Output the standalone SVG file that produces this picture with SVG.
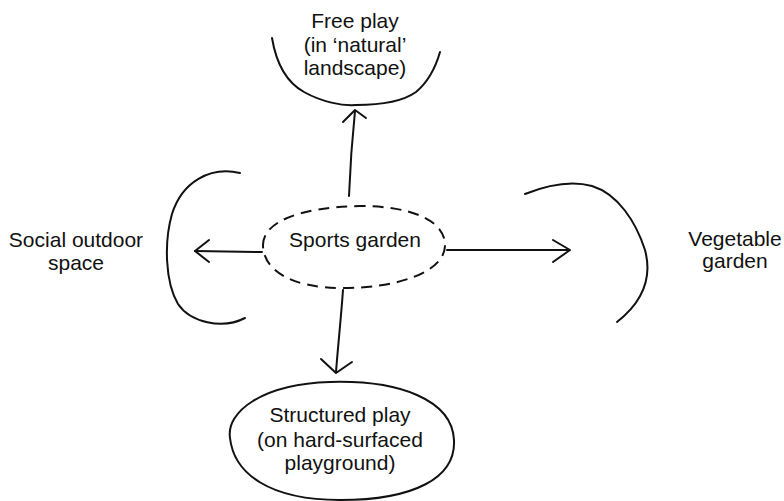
<svg xmlns="http://www.w3.org/2000/svg" width="784" height="501" viewBox="0 0 784 501">
  <style>
    .ink { fill: none; stroke: #111; stroke-width: 2; stroke-linecap: round; stroke-linejoin: round; }
    .dash { stroke-dasharray: 11 7; stroke-linecap: butt; }
    .label { font-family: "Liberation Sans", Arial, sans-serif; font-size: 21px; fill: #111; text-anchor: middle; }
  </style>
  <rect width="784" height="501" fill="#fff"/>

  <!-- Central node -->
  <g id="sports-garden">
    <path class="ink dash" d="M263 246 C262 222 300 207 360 206 C414 206 446 222 445 246 C444 272 398 288 343 288 C290 288 264 270 263 246 Z"/>
    <text class="label" x="355" y="247">Sports garden</text>
  </g>

  <!-- Free play (open bowl shape) -->
  <g id="free-play">
    <path class="ink" d="M272 38 C276 62 286 82 304 92 C322 102 342 106 356 105 C378 105 402 102 416 92 C428 82 436 66 440 52"/>
    <text class="label" x="355" y="28">Free play</text>
    <text class="label" x="355" y="52">(in ‘natural’</text>
    <text class="label" x="355" y="75">landscape)</text>
  </g>

  <!-- Social outdoor space (left bracket) -->
  <g id="social-outdoor-space">
    <path class="ink" d="M240 173 C210 166 182 182 172 214 C164 242 165 282 178 304 C190 322 222 330 245 318"/>
    <text class="label" x="76" y="247">Social outdoor</text>
    <text class="label" x="76" y="270">space</text>
  </g>

  <!-- Vegetable garden (right bracket) -->
  <g id="vegetable-garden">
    <path class="ink" d="M525 194 C545 186 570 180 592 186 C618 194 636 222 645 250 C652 276 645 300 617 322"/>
    <text class="label" x="735" y="246">Vegetable</text>
    <text class="label" x="735" y="268">garden</text>
  </g>

  <!-- Structured play -->
  <g id="structured-play">
    <path class="ink" d="M230 438 C226 412 262 384 330 382 C400 380 452 400 454 440 C456 478 414 500 340 500 C270 500 234 474 230 438 Z"/>
    <text class="label" x="340" y="422">Structured play</text>
    <text class="label" x="340" y="447">(on hard-surfaced</text>
    <text class="label" x="340" y="470">playground)</text>
  </g>

  <!-- Connectors -->
  <g id="connectors">
    <path class="ink" d="M349 196 C350 170 352 140 355 111"/>
    <path class="ink" d="M343 122 L355 110 L366 118"/>

    <path class="ink" d="M262 252 L195 251"/>
    <path class="ink" d="M209 240 L195 251 L209 262"/>

    <path class="ink" d="M447 250 L569 250"/>
    <path class="ink" d="M553 240 L570 250 L553 262"/>

    <path class="ink" d="M343 290 C341 318 338 346 336 372"/>
    <path class="ink" d="M321 359 L336 373 L352 362"/>
  </g>
</svg>
